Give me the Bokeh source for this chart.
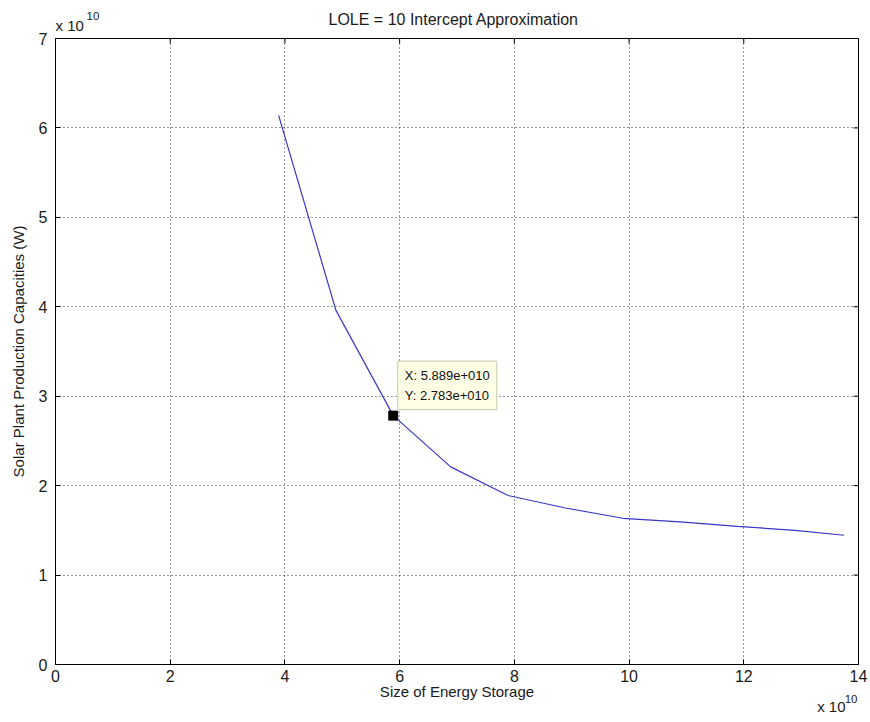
import math
from bokeh.plotting import figure
from bokeh.models import Range1d, FixedTicker, Label, Title
from bokeh.embed import file_html
from bokeh.resources import INLINE

# Data (axes in units of 1e10)
storage = [3.89, 4.89, 5.889, 6.89, 7.89, 8.89, 9.89, 10.89, 11.89, 12.89, 13.75]
capacity = [6.14, 3.96, 2.783, 2.21, 1.89, 1.75, 1.635, 1.595, 1.545, 1.50, 1.445]
tip_x = [5.889]
tip_y = [2.783]
x_ticks = [0, 2, 4, 6, 8, 10, 12, 14]
y_ticks = [0, 1, 2, 3, 4, 5, 6, 7]

title_text = "LOLE = 10 Intercept Approximation"
x_label = "Size of Energy Storage"
y_label = "Solar Plant Production Capacities (W)"

FONT = "Liberation Sans"
TXT = "#1a1a1a"
X0, X1 = x_ticks[0], x_ticks[-1]
Y0, Y1 = y_ticks[0], y_ticks[-1]

p = figure(width=870, height=722, output_backend="svg", toolbar_location=None,
           x_range=Range1d(X0, X1), y_range=Range1d(Y0, Y1),
           min_border_left=55, min_border_right=12, min_border_top=38, min_border_bottom=58)
p.background_fill_color = "white"
p.border_fill_color = "white"
p.outline_line_color = "black"
p.outline_line_width = 1

for ax, ticks in ((p.below[0], x_ticks), (p.left[0], y_ticks)):
    ax.ticker = FixedTicker(ticks=ticks)
    ax.major_tick_in = 5
    ax.major_tick_out = 0
    ax.minor_tick_line_color = None
    ax.axis_line_color = "black"
    ax.major_tick_line_color = "black"
    ax.major_label_text_font = FONT
    ax.major_label_text_font_size = "16px"
    ax.major_label_text_color = TXT
    ax.axis_label_text_font = FONT
    ax.axis_label_text_font_size = "15px"
    ax.axis_label_text_font_style = "normal"
    ax.axis_label_text_color = TXT

p.left[0].axis_label = y_label
p.below[0].major_label_standoff = 5
p.left[0].major_label_standoff = 8
p.left[0].axis_label_standoff = 9

for g, ticks in ((p.xgrid[0], x_ticks), (p.ygrid[0], y_ticks)):
    g.ticker = FixedTicker(ticks=ticks)
    g.grid_line_color = "black"
    g.grid_line_alpha = 0.8
    g.grid_line_dash = "1 3"
    g.grid_line_width = 1

# mirrored inward ticks on top and right (half of each dash is clipped by the frame)
p.scatter([X1] * len(y_ticks), y_ticks, marker="dash", size=10, line_color="black", line_width=1)
p.scatter(x_ticks, [Y1] * len(x_ticks), marker="dash", size=10, angle=math.pi / 2,
          line_color="black", line_width=1)

p.line(storage, capacity, line_color="#3838c8", line_width=1.2)
p.scatter(tip_x, tip_y, marker="square", size=9, fill_color="black", line_color="black")

tip_text = "X: %.3fe+010\nY: %.3fe+010" % (tip_x[0], tip_y[0])
p.add_layout(Label(x=tip_x[0], y=tip_y[0], x_offset=4.5, y_offset=6, text=tip_text,
                   text_font=FONT, text_font_size="13px", text_color="#101010",
                   text_align="left", text_baseline="bottom", text_line_height=1.3,
                   background_fill_color="#FFFFE6", border_line_color="#C8C8B0",
                   border_line_width=1, padding=7))

def title(text, size, align, offset, standoff, side):
    p.add_layout(Title(text=text, align=align, offset=offset, standoff=standoff,
                       text_font=FONT, text_font_size=size, text_font_style="normal",
                       text_color=TXT), side)

# Top: exponent and title
title("x 10", "15px", "left", 0, 9.6, "above")
title("10", "11.5px", "left", 31, -21.1, "above")
title(title_text, "16px", "left", 273, -36.5, "above")
# Bottom: x-axis label and exponent
title(x_label, "15px", "center", 0, -30.2, "below")
title("10", "11.5px", "right", 1, -37.2, "below")
title("x 10", "15px", "right", 13, -61.4, "below")

open("out.html", "w").write(file_html(p, INLINE))
